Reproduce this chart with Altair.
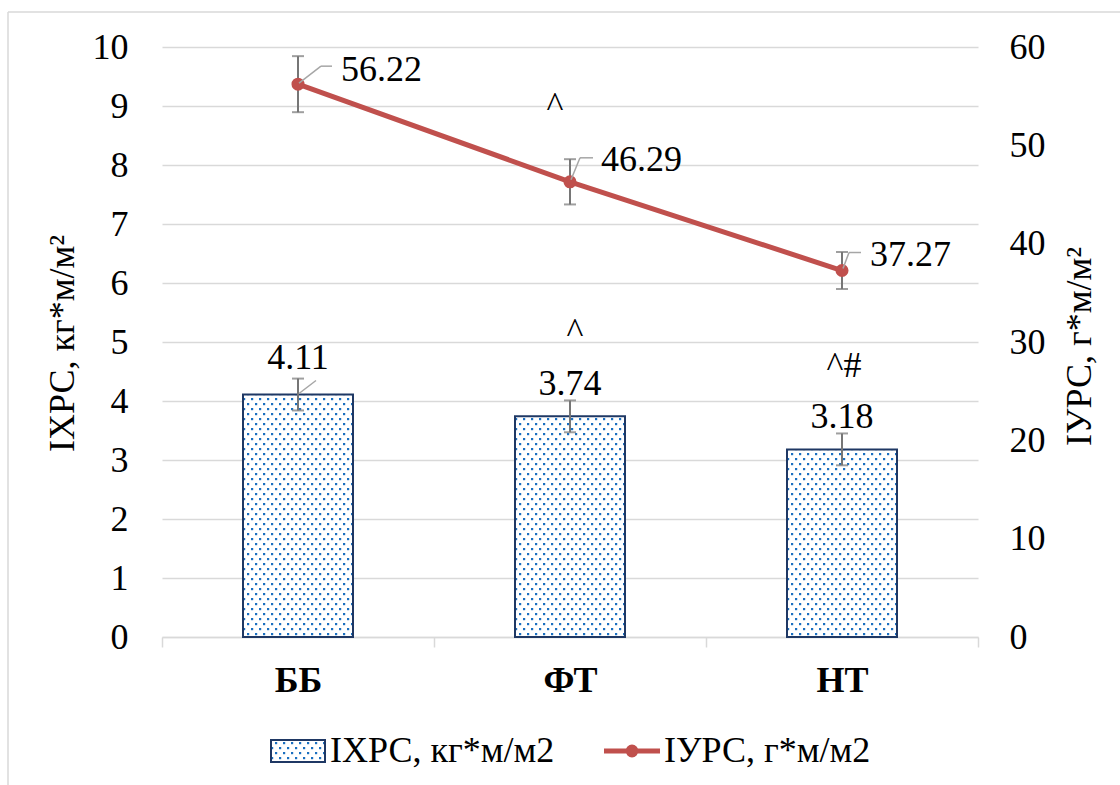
import altair as alt
import pandas as pd
import jinja2

# ---------------- data ----------------
categories = ["ББ", "ФТ", "НТ"]
ixrs_values = [4.11, 3.74, 3.18]          # left axis, bars
ixrs_errors = [0.27, 0.27, 0.27]
iurs_values = [56.22, 46.29, 37.27]       # right axis, line
iurs_errors = [2.85, 2.30, 1.88]
series_names = ["ІХРС, кг*м/м2", "ІУРС, г*м/м2"]
left_ticks = [0, 1, 2, 3, 4, 5, 6, 7, 8, 9, 10]
right_ticks = [0, 10, 20, 30, 40, 50, 60]
note_texts = ["^", "^", "^#"]
note_categories = ["ФТ", "ФТ", "НТ"]
note_levels = [8.81, 4.98, 4.41]

# ---------------- styles ----------------
FONT = "Liberation Serif"
FS = 36
GRID = "#d9d9d9"
RED = "#c0504d"
NAVY = "#1f3864"
ERR = "#767676"
LEAD = "#a6a6a6"
PATTERN = "url(#dots) #e4eef8"
W, H = 816, 590

note_dx = [-15, 5, 2]
bar_label_dy = [-37, -32, -32]
line_label_dx = [43, 31, 28]
line_label_dy = [-14, -22, -16]
line_leader_diag = [(1, -1, 23, -18), (1, -2, 10, -24), (1, -2, 7, -18)]
line_leader_flat = [(23, -18, 34, -18), (10, -24, 23, -24), (7, -18, 19, -18)]
bar_leader_diag = (1, -1, 18, -14)

SWATCH_PATH = "M-1,-0.41L1,-0.41L1,0.41L-1,0.41Z"
LINE_PATH = ("M-1,-0.055L1,-0.055L1,0.055L-1,0.055Z "
             "M0.2,0A0.2,0.2,0,1,1,-0.2,0A0.2,0.2,0,1,1,0.2,0Z")

# ---------------- tables ----------------
df = pd.DataFrame({
    "cat": categories,
    "ixrs": ixrs_values,
    "ixrs_err": ixrs_errors,
    "iurs": iurs_values,
    "iurs_err": iurs_errors,
})
df["ixrs_lo"] = df["ixrs"] - df["ixrs_err"]
df["ixrs_hi"] = df["ixrs"] + df["ixrs_err"]
df["iurs_lo"] = df["iurs"] - df["iurs_err"]
df["iurs_hi"] = df["iurs"] + df["iurs_err"]
df["ixrs_label"] = df["ixrs"].map(lambda v: f"{v:.2f}")
df["iurs_label"] = df["iurs"].map(lambda v: f"{v:.2f}")

notes_df = pd.DataFrame({"cat": note_categories, "level": note_levels, "text": note_texts})
legend_df = pd.DataFrame({"series": series_names})
frame_df = pd.DataFrame({"k": [0]})

left_scale = alt.Scale(domain=[0, 10], nice=False, zero=True)
right_scale = alt.Scale(domain=[0, 60], nice=False, zero=True)
x_scale = alt.Scale(paddingInner=0, paddingOuter=0)

x_axis = alt.Axis(
    title=None, labelFont=FONT, labelFontSize=FS, labelFontWeight="bold",
    labelColor="black", labelAngle=0, labelPadding=16, labelBaseline="top",
    domainColor=GRID, domainWidth=1.5, ticks=True, tickBand="extent",
    tickColor=GRID, tickWidth=1.5, tickSize=10, grid=False,
)
left_axis = alt.Axis(
    values=left_ticks, title="ІХРС, кг*м/м²", titleFont=FONT, titleFontSize=FS,
    titleFontWeight="normal", titleColor="black", titleAngle=270,
    titleAlign="center", titleBaseline="middle", titleX=-100, titleY=296,
    labelFont=FONT, labelFontSize=FS, labelColor="black", labelPadding=34,
    ticks=False, tickSize=0, domain=False, grid=True, gridColor=GRID, gridWidth=1.5,
)
right_axis = alt.Axis(
    values=right_ticks, orient="right", title="ІУРС, г*м/м²", titleFont=FONT,
    titleFontSize=FS, titleFontWeight="normal", titleColor="black", titleAngle=270,
    titleAlign="center", titleBaseline="middle", titleX=101, titleY=299,
    labelFont=FONT, labelFontSize=FS, labelColor="black", labelPadding=31,
    ticks=False, tickSize=0, domain=False, grid=False,
)


def X():
    return alt.X("cat:N", sort=categories, scale=x_scale, axis=x_axis)


def YL(field):
    return alt.Y(f"{field}:Q", scale=left_scale, axis=left_axis)


def YR(field):
    return alt.Y(f"{field}:Q", scale=right_scale, axis=right_axis)


base = alt.Chart(df)
txt = dict(font=FONT, fontSize=FS, color="black")

# ---------------- left group (bars) ----------------
bars = base.mark_bar(width=110, fill=PATTERN, stroke=NAVY, strokeWidth=2).encode(
    x=X(), y=YL("ixrs")
)
bar_err = base.mark_rule(color=ERR, strokeWidth=2).encode(
    x=X(), y=YL("ixrs_lo"), y2=alt.Y2("ixrs_hi")
)
bar_cap_lo = base.mark_tick(color=ERR, thickness=2, size=12, orient="horizontal").encode(
    x=X(), y=YL("ixrs_lo")
)
bar_cap_hi = base.mark_tick(color=ERR, thickness=2, size=12, orient="horizontal").encode(
    x=X(), y=YL("ixrs_hi")
)
left_layers = [bars, bar_err, bar_cap_lo, bar_cap_hi]

for i, c in enumerate(categories):
    left_layers.append(
        base.transform_filter(alt.datum.cat == c)
        .mark_text(align="center", baseline="middle", dy=bar_label_dy[i], **txt)
        .encode(x=X(), y=YL("ixrs"), text="ixrs_label:N")
    )

bx1, by1, bx2, by2 = bar_leader_diag
left_layers.append(
    base.transform_filter(alt.datum.cat == categories[0])
    .mark_rule(color=LEAD, strokeWidth=1.5, xOffset=bx1, yOffset=by1,
               x2Offset=bx2, y2Offset=by2)
    .encode(x=X(), x2=alt.X2("cat", bandPosition=0.5), y=YL("ixrs"), y2=alt.Y2("ixrs"))
)

for i in range(len(note_texts)):
    left_layers.append(
        alt.Chart(notes_df).transform_filter(alt.datum.text == note_texts[i])
        .transform_filter(alt.datum.level == note_levels[i])
        .mark_text(align="center", baseline="alphabetic", dx=note_dx[i], **txt)
        .encode(x=X(), y=YL("level"), text="text:N")
    )

left_group = alt.layer(*left_layers)

# ---------------- right group (line) ----------------
line_err = base.mark_rule(color=ERR, strokeWidth=2).encode(
    x=X(), y=YR("iurs_lo"), y2=alt.Y2("iurs_hi")
)
line_cap_lo = base.mark_tick(color=ERR, thickness=2, size=12, orient="horizontal").encode(
    x=X(), y=YR("iurs_lo")
)
line_cap_hi = base.mark_tick(color=ERR, thickness=2, size=12, orient="horizontal").encode(
    x=X(), y=YR("iurs_hi")
)
line = base.mark_line(color=RED, strokeWidth=5).encode(x=X(), y=YR("iurs"))
points = base.mark_point(filled=True, size=170, color=RED, opacity=1).encode(
    x=X(), y=YR("iurs")
)
right_layers = [line_err, line_cap_lo, line_cap_hi, line, points]

for i, c in enumerate(categories):
    sub = base.transform_filter(alt.datum.cat == c)
    a1, b1, a2, b2 = line_leader_diag[i]
    f1, g1, f2, g2 = line_leader_flat[i]
    right_layers.append(
        sub.mark_rule(color=LEAD, strokeWidth=1.5, xOffset=a1, yOffset=b1,
                      x2Offset=a2, y2Offset=b2)
        .encode(x=X(), x2=alt.X2("cat", bandPosition=0.5), y=YR("iurs"), y2=alt.Y2("iurs"))
    )
    right_layers.append(
        sub.mark_rule(color=LEAD, strokeWidth=1.5, xOffset=f1, yOffset=g1,
                      x2Offset=f2, y2Offset=g2)
        .encode(x=X(), x2=alt.X2("cat", bandPosition=0.5), y=YR("iurs"), y2=alt.Y2("iurs"))
    )
    right_layers.append(
        sub.mark_text(align="left", baseline="middle", dx=line_label_dx[i],
                      dy=line_label_dy[i], **txt)
        .encode(x=X(), y=YR("iurs"), text="iurs_label:N")
    )

right_group = alt.layer(*right_layers)

# ---------------- legend (native Vega legend from a hidden layer) ----------------
legend_def = alt.Legend(
    orient="none", direction="horizontal", columns=2, legendX=108, legendY=676,
    title=None, labelFont=FONT, labelFontSize=FS, labelColor="black", labelLimit=600,
    symbolSize=2916, symbolStrokeWidth=2, symbolOpacity=1, labelOffset=4,
    columnPadding=46, padding=0,
)
legend_layer = alt.Chart(legend_df).mark_point(filled=True, opacity=1).encode(
    x=alt.value(-4000), y=alt.value(-4000),
    shape=alt.Shape("series:N", sort=series_names,
                    scale=alt.Scale(domain=series_names, range=[SWATCH_PATH, LINE_PATH]),
                    legend=legend_def),
    fill=alt.Fill("series:N", sort=series_names,
                  scale=alt.Scale(domain=series_names, range=[PATTERN, RED]),
                  legend=legend_def),
    stroke=alt.Stroke("series:N", sort=series_names,
                      scale=alt.Scale(domain=series_names, range=[NAVY, RED]),
                      legend=legend_def),
)

# ---------------- outer frame ----------------
frame_left = alt.Chart(frame_df).mark_rule(color=GRID, strokeWidth=1.5).encode(
    x=alt.value(-154), y=alt.value(-35), y2=alt.value(760)
)
frame_top = alt.Chart(frame_df).mark_rule(color=GRID, strokeWidth=1.5).encode(
    x=alt.value(-154), x2=alt.value(980), y=alt.value(-35)
)

chart = (
    alt.layer(frame_left, frame_top, left_group, right_group, legend_layer)
    .resolve_scale(y="independent")
    .properties(
        width=W, height=H,
        padding={"left": 162, "top": 47, "right": 142, "bottom": 148},
        autosize=alt.AutoSizeParams(type="none"),
        background="white",
    )
    .configure_view(stroke=None)
    .configure_text(font=FONT)
)

PAGE = jinja2.Template("""<!DOCTYPE html>
<html>
<head>
  <meta charset="utf-8">
  <style>
    #{{ output_div }}.vega-embed { width: 100%; display: flex; }
    #{{ output_div }}.vega-embed details,
    #{{ output_div }}.vega-embed details summary { position: relative; }
  </style>
  <script type="text/javascript" src="{{ base_url }}/vega@{{ vega_version }}"></script>
  <script type="text/javascript" src="{{ base_url }}/vega-lite@{{ vegalite_version }}"></script>
  <script type="text/javascript" src="{{ base_url }}/vega-embed@{{ vegaembed_version }}"></script>
</head>
<body>
  <svg width="0" height="0" style="position:absolute;left:0;top:0" aria-hidden="true">
    <defs>
      <pattern id="dots" patternUnits="userSpaceOnUse" width="8" height="10">
        <rect width="8" height="10" fill="#ffffff"/>
        <rect x="1" y="1" width="2.2" height="2.2" fill="#1a6fc0"/>
        <rect x="5" y="6" width="2.2" height="2.2" fill="#1a6fc0"/>
      </pattern>
    </defs>
  </svg>
  <div id="{{ output_div }}"></div>
  <script type="text/javascript">
    vegaEmbed("#{{ output_div }}", {{ spec }}, {{ embed_options }}).catch(console.error);
  </script>
</body>
</html>""")

chart.save("out.html", embed_options={"renderer": "svg", "actions": False}, template=PAGE)
